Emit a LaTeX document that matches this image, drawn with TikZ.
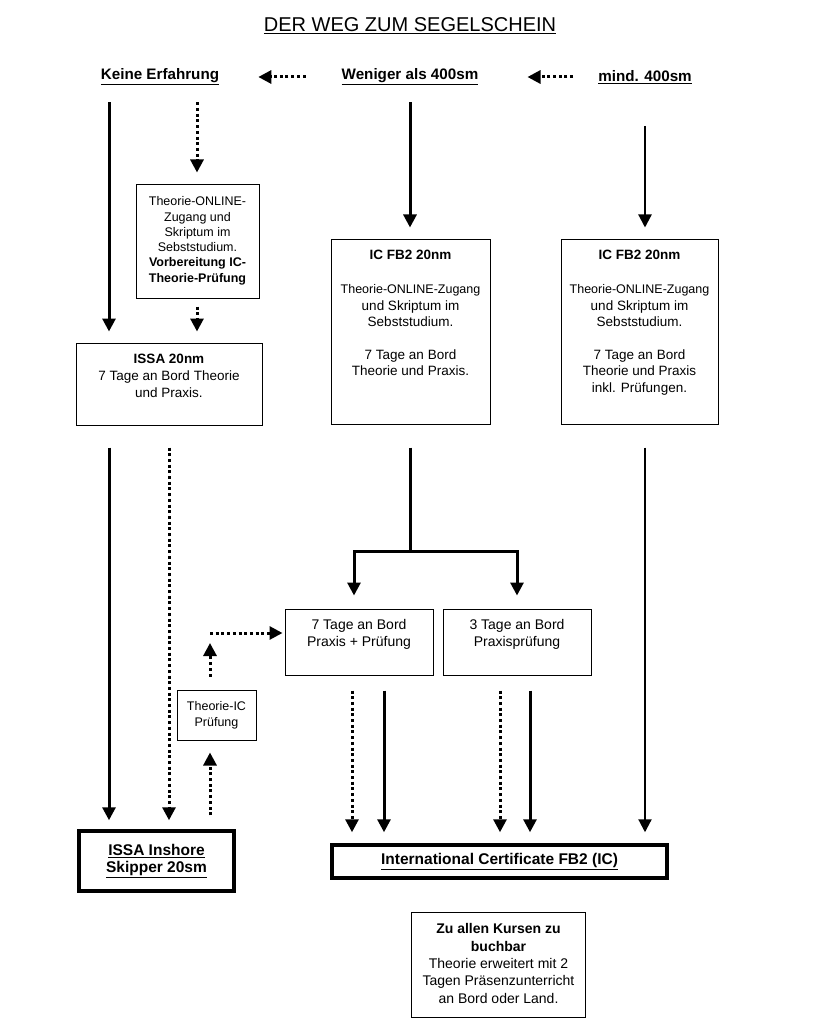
\documentclass[tikz,border=0pt]{standalone}
\usepackage{fontspec}
\setmainfont{Liberation Sans}
\usetikzlibrary{arrows.meta,calc}

\newcommand\smallsz{\fontsize{12.5}{15}\selectfont}
\newcommand\normsz{\fontsize{13.5}{16.5}\selectfont}

\tikzset{
	box/.style={draw, line width=1pt, inner sep=0pt},
	bigbox/.style={draw, line width=3.5pt, inner sep=0pt, align=center, font=\fontsize{15.5}{17.5}\selectfont\bfseries},
	txt/.style={align=center, inner sep=0pt, anchor=north, font=\normsz},
	head/.style={inner sep=0pt, font=\fontsize{15.2}{17}\selectfont\bfseries},
	solidarrow/.style={line width=3pt, -{Triangle[length=13pt,width=13pt]}},
	dotarrow/.style={line width=3pt, dash pattern=on 3pt off 2.7pt, -{Triangle[length=13pt,width=13pt]}},
}

\begin{document}
\begin{tikzpicture}[x=1pt, y=-1pt]
	\useasboundingbox (0,0) rectangle (820,1024);
	% title and headings
	\node[font=\fontsize{20}{24}\selectfont] (title) at (410,26) {\underline{DER WEG ZUM SEGELSCHEIN}};
	\node[head] (keine) at (160,77) {\underline{Keine Erfahrung}};
	\node[head] (wen) at (410,77) {\underline{Weniger als 400sm}};
	\node[head] (mind) at (645,77) {\underline{mind. 400sm}};
	\draw[dotarrow] ([xshift=-36pt]wen.west) -- ([xshift=39pt]keine.east);
	\draw[dotarrow] ([xshift=-25pt]mind.west) -- ([xshift=49pt]wen.east);
	% upper boxes
	\node[box, minimum width=123, minimum height=113] (theo) at (197.5,241.5) {};
	\node[txt, font=\fontsize{12.5}{15.3}\selectfont] at ([yshift=-12pt]theo.north) {Theorie-ONLINE-\\Zugang und\\Skriptum im\\Sebststudium.\\\textbf{Vorbereitung IC-}\\\textbf{Theorie-Prüfung}};
	\node[box, minimum width=186, minimum height=82] (issa) at (169,384) {};
	\node[txt, font=\fontsize{13.5}{17}\selectfont] at ([yshift=-11pt]issa.north) {\textbf{ISSA 20nm}\\7 Tage an Bord Theorie\\und Praxis.};
	\node[box, minimum width=159, minimum height=185] (icA) at (410.5,331.5) {};
	\node[txt] at ([yshift=-11pt]icA.north) {\textbf{IC FB2 20nm}\\[18pt]\smallsz Theorie-ONLINE-Zugang\\und Skriptum im\\Sebststudium.\\[16pt]\normsz 7 Tage an Bord\\Theorie und Praxis.};
	\node[box, minimum width=157, minimum height=185] (icB) at (639.5,331.5) {};
	\node[txt] at ([yshift=-11pt]icB.north) {\textbf{IC FB2 20nm}\\[18pt]\smallsz Theorie-ONLINE-Zugang\\und Skriptum im\\Sebststudium.\\[16pt]\normsz 7 Tage an Bord\\Theorie und Praxis\\inkl. Prüfungen.};
	% lower boxes
	\node[box, minimum width=148, minimum height=66] (prax7) at (359,642) {};
	\node[txt, font=\fontsize{14}{17}\selectfont] at ([yshift=-11pt]prax7.north) {7 Tage an Bord\\Praxis + Prüfung};
	\node[box, minimum width=148, minimum height=66] (prax3) at (517,642) {};
	\node[txt, font=\fontsize{14}{17}\selectfont] at ([yshift=-11pt]prax3.north) {3 Tage an Bord\\Praxisprüfung};
	\node[box, minimum width=79, minimum height=50, align=center, font=\fontsize{12.5}{16}\selectfont] (ictheo) at (216.5,715) {Theorie-IC\\Prüfung};
	% certificates
	\node[bigbox, minimum width=155, minimum height=60] (inshore) at (156.5,861) {\underline{ISSA Inshore}\\\underline{Skipper 20sm}};
	\node[bigbox, minimum width=335, minimum height=33] (cert) at (499.5,861.5) {\underline{International Certificate FB2 (IC)}};
	\node[box, minimum width=174, minimum height=105] (extra) at (498.5,964.5) {};
	\node[txt, font=\fontsize{14}{17.3}\selectfont] at ([yshift=-12pt]extra.north) {\textbf{Zu allen Kursen zu}\\\textbf{buchbar}\\Theorie erweitert mit 2\\Tagen Präsenzunterricht\\an Bord oder Land.};
	% arrow columns
	\coordinate (cA) at (109,0);
	\coordinate (cB) at (197,0);
	\coordinate (cC) at (169,0);
	\coordinate (cD) at (210,0);
	\coordinate (cE) at (352,0);
	\coordinate (cF) at (384,0);
	\coordinate (cG) at (500,0);
	\coordinate (cH) at (530,0);
	\coordinate (bend) at (210,633);
	\coordinate (split) at (410,551);
	% top arrows
	\draw[solidarrow, shorten <=17pt, shorten >=11pt] (cA |- keine.south) -- (cA |- issa.north);
	\draw[dotarrow, shorten <=17pt, shorten >=12pt] (cB |- keine.south) -- (cB |- theo.north);
	\draw[dotarrow, shorten <=8pt, shorten >=11pt] (cB |- theo.south) -- (cB |- issa.north);
	\draw[solidarrow, shorten <=17pt, shorten >=11pt] (wen.south) -- (wen.south |- icA.north);
	\draw[solidarrow, line width=2.2pt, shorten <=42pt, shorten >=11pt] (mind.south) -- (mind.south |- icB.north);
	% lower arrows
	\draw[solidarrow, shorten <=22pt, shorten >=9pt] (cA |- issa.south) -- (cA |- inshore.north);
	\draw[dotarrow, shorten <=22pt, shorten >=9pt] (cC |- issa.south) -- (cC |- inshore.north);
	\draw[dotarrow, shorten <=14pt, shorten >=12pt] (cD |- inshore.north) -- (cD |- ictheo.south);
	\draw[dotarrow, shorten <=13pt] (ictheo.north -| cD) -- ([yshift=-10pt]bend);
	\draw[dotarrow, shorten >=2pt] (bend) -- (bend -| prax7.west);
	\draw[line width=3pt, shorten <=23pt] (wen.south |- icA.south) -- (split);
	\draw[solidarrow, shorten >=13pt] (split) -| ([xshift=-5pt]prax7.north);
	\draw[solidarrow, shorten >=13pt] (split) -| (prax3.north);
	\draw[dotarrow, shorten <=15pt, shorten >=11pt] (cE |- prax7.south) -- (cE |- cert.north);
	\draw[solidarrow, shorten <=15pt, shorten >=11pt] (cF |- prax7.south) -- (cF |- cert.north);
	\draw[dotarrow, shorten <=15pt, shorten >=11pt] (cG |- prax3.south) -- (cG |- cert.north);
	\draw[solidarrow, shorten <=15pt, shorten >=11pt] (cH |- prax3.south) -- (cH |- cert.north);
	\draw[solidarrow, line width=2.2pt, shorten <=23pt, shorten >=11pt] (mind.south |- icB.south) -- (mind.south |- cert.north);
\end{tikzpicture}
\end{document}
